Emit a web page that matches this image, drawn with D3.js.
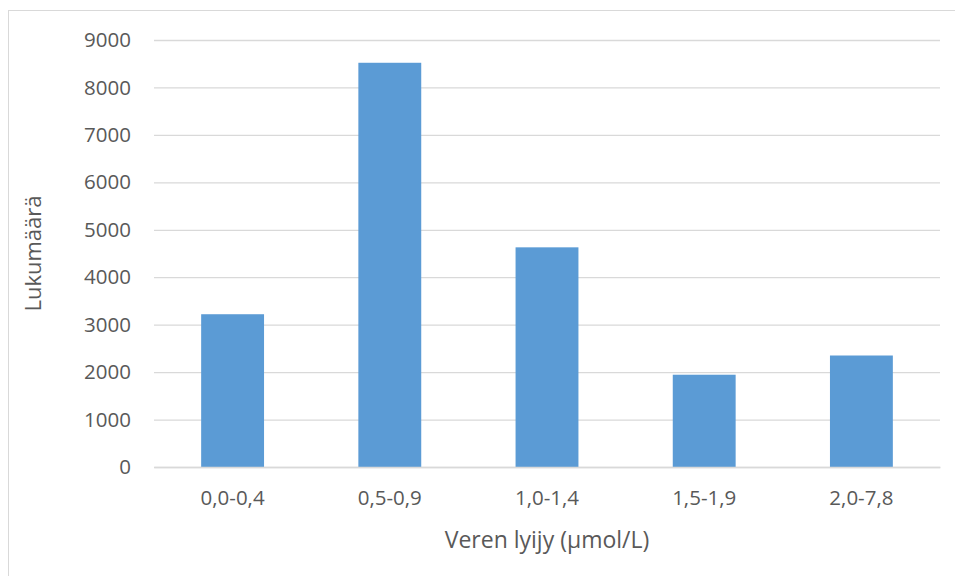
<!DOCTYPE html>
<html>
<head>
<meta charset="utf-8">
<script src="https://cdn.jsdelivr.net/npm/d3@7"></script>
<style>
  html, body { margin: 0; padding: 0; background: #ffffff; }
  svg { display: block; }
  text { font-family: "Open Sans", "Noto Sans", sans-serif; fill: #595959; }
</style>
</head>
<body>
<svg id="chart" width="955" height="576"></svg>
<script>
// Blood lead distribution: number of people per concentration class
const categories = ["0,0-0,4", "0,5-0,9", "1,0-1,4", "1,5-1,9", "2,0-7,8"];
const counts = [3220, 8520, 4630, 1945, 2350];
const yTicks = [0, 1000, 2000, 3000, 4000, 5000, 6000, 7000, 8000, 9000];
const xTitle = "Veren lyijy (µmol/L)";
const yTitle = "Lukumäärä";

const svg = d3.select("#chart");
const plot = { left: 154, right: 940, top: 40, bottom: 467 };

// Chart area frame
svg.append("rect")
  .attr("x", 8.5).attr("y", 10.5)
  .attr("width", 960).attr("height", 600)
  .attr("fill", "none")
  .attr("stroke", "#D9D9D9")
  .attr("stroke-width", 1);

const x = d3.scaleBand()
  .domain(categories)
  .range([plot.left, plot.right])
  .paddingInner(0.6)
  .paddingOuter(0.3);

const y = d3.scaleLinear()
  .domain([0, 9000])
  .range([plot.bottom, plot.top]);

// Horizontal gridlines with value labels
const yAxis = d3.axisLeft(y)
  .tickValues(yTicks)
  .tickSize(-(plot.right - plot.left))
  .tickPadding(23)
  .tickFormat(d3.format("d"));

const gy = svg.append("g")
  .attr("transform", `translate(${plot.left},0)`)
  .call(yAxis);
gy.attr("font-size", null);
gy.select(".domain").remove();
gy.selectAll(".tick line").attr("stroke", "#D9D9D9").attr("stroke-width", 1.3);
gy.selectAll(".tick text")
  .style("font-size", "20.5px")
  .attr("fill", "#595959")
  .style("font-family", "'Open Sans', sans-serif");

// Bars
svg.append("g")
  .selectAll("rect")
  .data(categories)
  .join("rect")
  .attr("x", d => x(d))
  .attr("width", x.bandwidth())
  .attr("y", (d, i) => y(counts[i]))
  .attr("height", (d, i) => y(0) - y(counts[i]))
  .attr("fill", "#5B9BD5");

// Category axis
const xAxis = d3.axisBottom(x).tickSize(0).tickPadding(23);
const gx = svg.append("g")
  .attr("transform", `translate(0,${plot.bottom})`)
  .call(xAxis);
gx.attr("font-size", null);
gx.select(".domain").attr("stroke", "#D9D9D9").attr("stroke-width", 1.3);
gx.selectAll(".tick text")
  .style("font-size", "20.5px")
  .attr("fill", "#595959")
  .style("font-family", "'Open Sans', sans-serif");

// Axis titles
svg.append("text")
  .attr("x", (plot.left + plot.right) / 2)
  .attr("y", 548)
  .attr("text-anchor", "middle")
  .attr("font-size", 23)
  .text(xTitle);

svg.append("text")
  .attr("transform", `translate(41,${(plot.top + plot.bottom) / 2}) rotate(-90)`)
  .attr("text-anchor", "middle")
  .attr("font-size", 22)
  .text(yTitle);
</script>
</body>
</html>
